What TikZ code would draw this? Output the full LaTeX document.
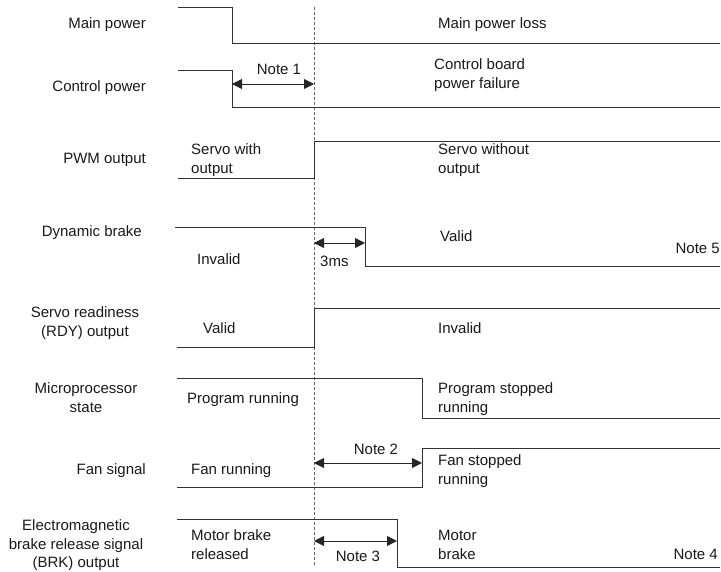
\documentclass[tikz,border=0pt]{standalone}
\usepackage{fontspec}
\setmainfont{Liberation Sans}
\usetikzlibrary{arrows.meta}
\begin{document}
\begin{tikzpicture}[x=1pt,y=-1pt,
  sig/.style={draw=black!80,line width=0.9pt},
  dim/.style={draw=black!85,line width=0.9pt,{Triangle[length=10pt,width=10pt]}-{Triangle[length=10pt,width=10pt]}},
  txt/.style={inner sep=0pt,font=\fontsize{15}{19}\selectfont,text=black!90},
  lbl/.style={txt,anchor=base east},
  ltxt/.style={txt,anchor=base west,align=left},
  ctxt/.style={txt,align=center}]
\useasboundingbox (0,0) rectangle (721,572);
% dashed reference line
\coordinate (dtop) at (314,7);
\coordinate (dbot) at (314,566);
\draw[black!60,line width=0.9pt,dash pattern=on 3pt off 2pt] (dtop) -- (dbot);
% signal waveforms
\draw[sig] (178,7) -- (232,7) -- (232,43) -- (720,43);
\draw[sig] (178,70) -- (232,70) -- (232,107) -- (720,107);
\draw[sig] (178,178) -- (314,178) -- (314,141) -- (720,141);
\draw[sig] (175,227) -- (365,227) -- (365,266) -- (720,266);
\draw[sig] (177,347) -- (314,347) -- (314,308) -- (720,308);
\draw[sig] (177,378) -- (422,378) -- (422,418) -- (720,418);
\draw[sig] (177,487) -- (422,487) -- (422,448) -- (720,448);
\draw[sig] (177,519) -- (397,519) -- (397,567) -- (720,567);
% dimension arrows
\coordinate (n1a) at (232,84);  \coordinate (n1b) at (314,84);
\coordinate (t3a) at (314,243); \coordinate (t3b) at (365,243);
\coordinate (n2a) at (314,463); \coordinate (n2b) at (422,463);
\coordinate (n3a) at (314,541); \coordinate (n3b) at (397,541);
\draw[dim] (n1a) -- (n1b);
\draw[dim] (t3a) -- (t3b);
\draw[dim] (n2a) -- (n2b);
\draw[dim] (n3a) -- (n3b);
% left labels
\node[lbl] (l1) at (146,29) {Main power};
\node[lbl] (l2) at (146,92) {Control power};
\node[lbl] (l3) at (146,164) {PWM output};
\node[lbl] (l4) at (142,237) {Dynamic brake};
\node[ctxt,anchor=base] (l5a) at (85,318) {Servo readiness};
\node[ctxt,anchor=base] (l5b) at (85,337) {(RDY) output};
\node[ctxt,anchor=base] (l6a) at (86,394) {Microprocessor};
\node[ctxt,anchor=base] (l6b) at (86,413) {state};
\node[lbl] (l7) at (146,474) {Fan signal};
\node[ctxt,anchor=base] (l8a) at (76,530) {Electromagnetic};
\node[ctxt,anchor=base] (l8b) at (76,549) {brake release signal};
\node[ctxt,anchor=base] (l8c) at (76,567) {(BRK) output};
% state texts before
\node[ltxt] (s3a) at (191,155) {Servo with};
\node[ltxt] (s3b) at (191,174) {output};
\node[ltxt] (s4) at (197,265) {Invalid};
\node[ltxt] (s5) at (203,334) {Valid};
\node[ltxt] (s6) at (187,403) {Program running};
\node[ltxt] (s7) at (191,474) {Fan running};
\node[ltxt] (s8a) at (191,540) {Motor brake};
\node[ltxt] (s8b) at (191,559) {released};
% state texts after
\node[ltxt] (a1) at (438,29) {Main power loss};
\node[ltxt] (a2a) at (434,70) {Control board};
\node[ltxt] (a2b) at (434,89) {power failure};
\node[ltxt] (a3a) at (438,155) {Servo without};
\node[ltxt] (a3b) at (438,174) {output};
\node[ltxt] (a4) at (440,242) {Valid};
\node[ltxt] (a5) at (438,334) {Invalid};
\node[ltxt] (a6a) at (438,394) {Program stopped};
\node[ltxt] (a6b) at (438,413) {running};
\node[ltxt] (a7a) at (438,465) {Fan stopped};
\node[ltxt] (a7b) at (438,484) {running};
\node[ltxt] (a8a) at (438,540) {Motor};
\node[ltxt] (a8b) at (438,559) {brake};
% notes
\node[ctxt,anchor=base] (note1) at (279,75) {Note 1};
\node[ltxt] (t3) at (320,267) {3ms};
\node[ctxt,anchor=base] (note2) at (376,454) {Note 2};
\node[ctxt,anchor=base] (note3) at (358,561) {Note 3};
\node[txt,anchor=base east] (note5) at (720,254) {Note 5};
\node[txt,anchor=base east] (note4) at (718,559) {Note 4};
\end{tikzpicture}
\end{document}
